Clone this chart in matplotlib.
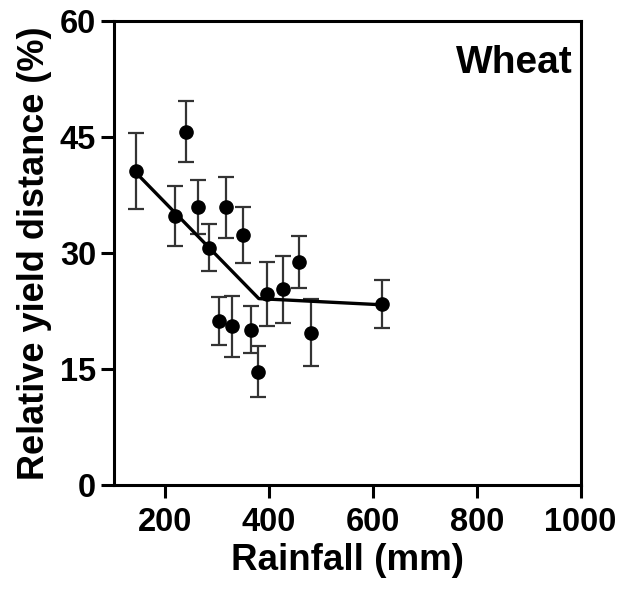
import matplotlib
matplotlib.use("Agg")
import matplotlib.pyplot as plt

plt.rcParams['font.family'] = ['Liberation Sans', 'DejaVu Sans']
plt.rcParams['font.weight'] = 'bold'

rainfall = [143, 239, 219, 263, 284, 316, 349, 303, 328, 365, 379, 395, 427, 457, 480, 618]
yield_dist = [40.6, 45.7, 34.8, 35.9, 30.7, 35.9, 32.3, 21.2, 20.5, 20.1, 14.65, 24.7, 25.3, 28.8, 19.7, 23.4]
err = [4.9, 3.9, 3.85, 3.5, 3.0, 3.9, 3.65, 3.15, 3.9, 3.0, 3.3, 4.2, 4.3, 3.35, 4.3, 3.05]

fit_x = [143, 380, 618]
fit_y = [40.4, 24.1, 23.3]

x_ticks = [200, 400, 600, 800, 1000]
y_ticks = [0, 15, 30, 45, 60]

fig = plt.figure(figsize=(6.21, 5.95), dpi=100)
ax = fig.add_axes([0.1828, 0.1849, 0.7520, 0.7798])

ax.errorbar(rainfall, yield_dist, yerr=err, fmt='none', ecolor='#333333',
            elinewidth=1.6, capsize=6, capthick=1.6, zorder=2)
ax.plot(fit_x, fit_y, color='black', linewidth=2.4, zorder=3)
ax.plot(rainfall, yield_dist, 'o', color='black', markersize=9.5, zorder=4)

ax.set_xlim(100, 1000)
ax.set_ylim(0, 60)
ax.set_xticks(x_ticks)
ax.set_yticks(y_ticks)
for s in ax.spines.values():
    s.set_linewidth(2.2)
ax.tick_params(axis='both', width=2.2, length=9.5, labelsize=23.5)
ax.tick_params(axis='x', pad=6)
ax.tick_params(axis='y', pad=3)
for lab in ax.get_xticklabels() + ax.get_yticklabels():
    lab.set_fontweight('bold')

ax.set_xlabel('Rainfall (mm)', fontsize=26.5, fontweight='bold', labelpad=4)
ax.set_ylabel('Relative yield distance (%)', fontsize=26, fontweight='bold', labelpad=6)

ax.text(0.984, 0.888, 'Wheat', transform=ax.transAxes, ha='right', va='baseline',
        fontsize=28, fontweight='bold')

fig.savefig('out.png', dpi=100)
